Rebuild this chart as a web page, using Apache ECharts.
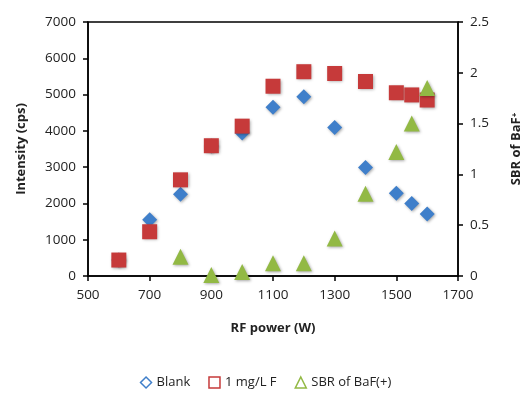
<!DOCTYPE html>
<html>
<head>
<meta charset="utf-8">
<script src="https://cdn.jsdelivr.net/npm/echarts@6/dist/echarts.min.js"></script>
<style>
  html, body { margin: 0; padding: 0; background: #fff; }
  #chart { width: 531px; height: 395px; }
</style>
</head>
<body>
<div id="chart"></div>
<script>
// RF power (W)
const blankPower = [600, 700, 800, 900, 1000, 1100, 1200, 1300, 1400, 1500, 1550, 1600];
const blankIntensity = [440, 1550, 2250, 3580, 3940, 4650, 4940, 4090, 2990, 2280, 2000, 1710];

const fluoridePower = [600, 700, 800, 900, 1000, 1100, 1200, 1300, 1400, 1500, 1550, 1600];
const fluorideIntensity = [440, 1220, 2650, 3590, 4130, 5230, 5630, 5580, 5360, 5050, 4990, 4850];

const sbrPower = [800, 900, 1000, 1100, 1200, 1300, 1400, 1500, 1550, 1600];
const sbrValues = [0.19, 0.01, 0.04, 0.125, 0.125, 0.37, 0.81, 1.22, 1.5, 1.85];

const seriesNames = ["Blank", "1 mg/L F", "SBR of BaF(+)"];

const BLUE = "#3f7fca";
const RED = "#c63a3a";
const GREEN = "#92b944";
const FONT = "Open Sans";

const pair = (xs, ys) => xs.map((x, i) => [x, ys[i]]);
const plain = (v) => String(v);

const chart = echarts.init(document.getElementById("chart"), null, { renderer: "canvas" });

const axisLine = { show: true, lineStyle: { color: "#000", width: 1.5 } };
const axisTick = { show: true, inside: false, length: 5, lineStyle: { color: "#000", width: 1.5 } };
const labelStyle = { color: "#222", fontFamily: FONT, fontSize: 13.5, formatter: plain };
const nameStyle = { color: "#222", fontFamily: FONT, fontSize: 13, fontWeight: "bold" };

const shadow = { opacity: 1, shadowBlur: 3, shadowColor: "rgba(0,0,0,0.35)", shadowOffsetX: 1, shadowOffsetY: 1 };

chart.setOption({
  animation: false,
  grid: {
    left: 88, right: 70, top: 22, bottom: 119,
    show: true, borderColor: "#000", borderWidth: 1.5, backgroundColor: "transparent",
  },
  legend: {
    bottom: 1,
    left: "center",
    itemWidth: 11,
    itemHeight: 11,
    itemGap: 18,
    textStyle: { color: "#222", fontFamily: FONT, fontSize: 13 },
    data: [
      { name: seriesNames[0], icon: "diamond", itemStyle: { color: "transparent", borderColor: BLUE, borderWidth: 1.5 } },
      { name: seriesNames[1], icon: "rect", itemStyle: { color: "transparent", borderColor: RED, borderWidth: 1.5 } },
      { name: seriesNames[2], icon: "triangle", itemStyle: { color: "transparent", borderColor: GREEN, borderWidth: 1.5 } },
    ],
  },
  xAxis: {
    type: "value",
    min: 500, max: 1700, interval: 200,
    name: "RF power (W)",
    nameLocation: "middle",
    nameGap: 46,
    nameTextStyle: nameStyle,
    axisLine, axisTick,
    axisLabel: { ...labelStyle, margin: 12 },
    splitLine: { show: false },
  },
  yAxis: [
    {
      type: "value",
      min: 0, max: 7000, interval: 1000,
      name: "Intensity (cps)",
      nameLocation: "middle",
      nameGap: 60,
      nameTextStyle: nameStyle,
      axisLine, axisTick,
      axisLabel: { ...labelStyle, margin: 12 },
      splitLine: { show: false },
    },
    {
      type: "value",
      position: "right",
      min: 0, max: 2.5, interval: 0.5,
      name: "SBR of BaF⁺",
      nameLocation: "middle",
      nameGap: 52,
      nameRotate: 90,
      nameTextStyle: nameStyle,
      axisLine, axisTick,
      axisLabel: { ...labelStyle, margin: 12 },
      splitLine: { show: false },
    },
  ],
  series: [
    {
      name: seriesNames[0],
      type: "scatter",
      symbol: "diamond",
      symbolSize: 15,
      itemStyle: { color: BLUE, ...shadow },
      data: pair(blankPower, blankIntensity),
      z: 2,
    },
    {
      name: seriesNames[1],
      type: "scatter",
      symbol: "rect",
      symbolSize: 15,
      itemStyle: { color: RED, ...shadow },
      data: pair(fluoridePower, fluorideIntensity),
      z: 3,
    },
    {
      name: seriesNames[2],
      type: "scatter",
      yAxisIndex: 1,
      symbol: "triangle",
      symbolSize: 16,
      itemStyle: { color: GREEN, ...shadow },
      data: pair(sbrPower, sbrValues),
      z: 4,
    },
  ],
});
</script>
</body>
</html>
